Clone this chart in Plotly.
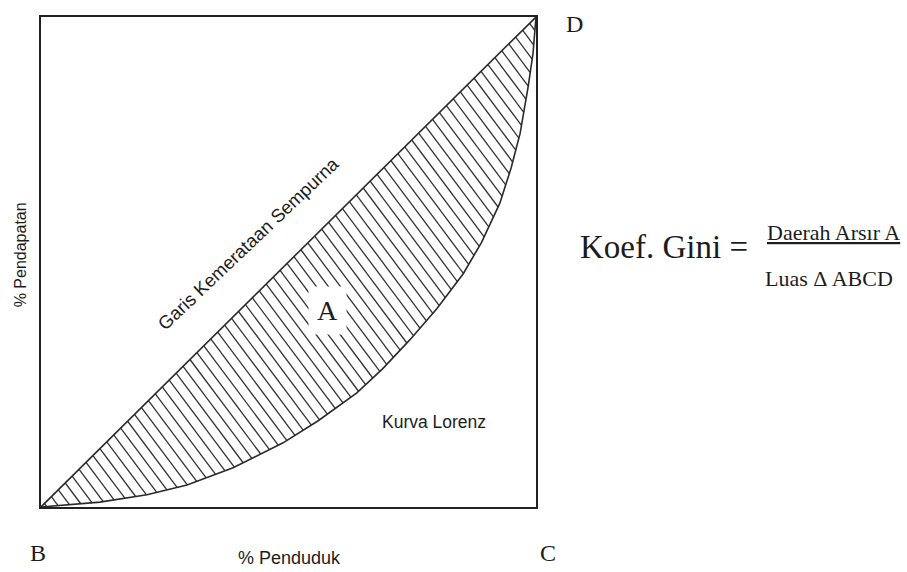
import numpy as np
import plotly.graph_objects as go

# Lorenz curve (cumulative % population vs cumulative % income)
pop_share = [0, 5, 11.9, 21.4, 29.5, 38.8, 48.9, 56, 63.8, 69, 74.5, 80, 85.3, 89, 92.7, 95, 96.8, 98.4, 99.4, 100]
income_share = [0, 0.4, 1.0, 2.5, 4.5, 8.0, 13.1, 17.6, 23.3, 28.2, 34.1, 40.5, 47.6, 54.0, 62.0, 69.3, 76.3, 85.7, 92.6, 100]

# Line of perfect equality
equality_x = [0, 100]
equality_y = [0, 100]

# Hatching between the equality line and the Lorenz curve
hatch_start = np.arange(0.7, 100, 1.4)
hatch_slope = 1.35

px = np.array(pop_share, dtype=float)
py = np.array(income_share, dtype=float)
s = hatch_start
lo = np.zeros_like(s)
hi = 100 - s
for _ in range(60):
    mid = (lo + hi) / 2
    f = s - hatch_slope * mid - np.interp(s + mid, px, py)
    lo = np.where(f > 0, mid, lo)
    hi = np.where(f > 0, hi, mid)
t = (lo + hi) / 2
hx, hy = [], []
for si, ti in zip(s, t):
    hx += [si, si + ti, None]
    hy += [si, si - hatch_slope * ti, None]

fig = go.Figure()
fig.add_trace(go.Scatter(x=hx, y=hy, mode="lines",
                         line=dict(color="#333333", width=1.3),
                         hoverinfo="skip", showlegend=False))
fig.add_trace(go.Scatter(x=equality_x, y=equality_y, mode="lines",
                         line=dict(color="#2a2a2a", width=1.6),
                         showlegend=False))
fig.add_trace(go.Scatter(x=pop_share, y=income_share, mode="lines",
                         line=dict(color="#2a2a2a", width=1.6),
                         showlegend=False))

sans = "Liberation Sans, Arial, sans-serif"
serif = "Liberation Serif, Times New Roman, serif"
ink = "#1c1c1c"

def ann(text, x, y, size, family, **kw):
    fig.add_annotation(text=text, x=x, y=y, xref="paper", yref="paper",
                       showarrow=False, font=dict(size=size, family=family, color=ink),
                       xanchor="center", yanchor="middle", **kw)

ann("B", -0.007, -0.094, 24, serif)
ann("C", 1.025, -0.094, 24, serif)
ann("D", 1.077, 0.986, 24, serif)
ann("% Penduduk", 0.503, -0.104, 18, sans)
ann("% Pendapatan", -0.042, 0.514, 16, sans, textangle=-90)
ann("Kurva Lorenz", 0.794, 0.173, 17.5, sans)
ann("Garis Kemerataan Sempurna", 0.419, 0.537, 18.5, sans, textangle=-43.5)
ann("A", 0.578, 0.402, 28, serif, bgcolor="white", borderpad=8)
ann("Koef. Gini =", 1.258, 0.531, 33, serif)
ann("<u>Daerah Arsır A</u>", 1.600, 0.561, 22, serif)
ann("Luas Δ ABCD", 1.591, 0.467, 22, serif)

axis = dict(range=[0, 100], showgrid=False, zeroline=False, showticklabels=False,
            ticks="", showline=True, mirror=True, linecolor="#222", linewidth=2)
fig.update_layout(
    width=907, height=572,
    margin=dict(l=41, r=371, t=17, b=65),
    paper_bgcolor="white", plot_bgcolor="white",
    xaxis=axis, yaxis=axis,
    showlegend=False,
)
fig.write_html("out.html", config={"displayModeBar": False},
               post_script="document.body.style.margin='0';document.body.style.padding='0';document.body.style.overflow='hidden';")
